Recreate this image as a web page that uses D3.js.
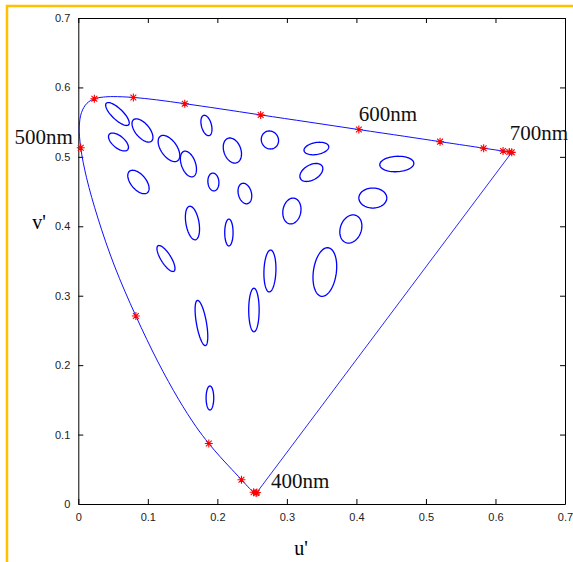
<!DOCTYPE html>
<html>
<head>
<meta charset="utf-8">
<script src="https://cdn.jsdelivr.net/npm/d3@7"></script>
<style>
  body { margin: 0; background: #fff; }
  svg { display: block; }
</style>
</head>
<body>
<div id="chart"></div>
<script>
// spectral locus, CIE 1976 u'v'
const wavelengths = [380, 400, 420, 430, 440, 450, 455, 460, 465, 470, 475, 480, 485, 490, 495,
    500, 505, 510, 515, 520, 525, 530, 540, 550, 560, 570, 580, 590, 600, 610, 620, 630, 640,
    650, 660, 680, 700];
const locusU = [0.2568, 0.2557, 0.2522, 0.2461, 0.2347, 0.2161, 0.2033, 0.1877, 0.1690, 0.1441,
    0.1147, 0.0828, 0.0521, 0.0282, 0.0119, 0.0035, 0.0014, 0.0046, 0.0123, 0.0231, 0.0360,
    0.0501, 0.0792, 0.1127, 0.1531, 0.2026, 0.2623, 0.3315, 0.4035, 0.4692, 0.5203, 0.5565,
    0.5830, 0.6005, 0.6109, 0.6199, 0.6234];
const locusV = [0.0166, 0.0159, 0.0169, 0.0226, 0.0350, 0.0549, 0.0688, 0.0871, 0.1119, 0.1510,
    0.2044, 0.2708, 0.3427, 0.4117, 0.4698, 0.5131, 0.5432, 0.5638, 0.5770, 0.5837, 0.5861,
    0.5868, 0.5856, 0.5821, 0.5766, 0.5694, 0.5604, 0.5501, 0.5393, 0.5296, 0.5219, 0.5165,
    0.5125, 0.5099, 0.5084, 0.5070, 0.5065];
const markerWavelengths = [380, 400, 420, 440, 460, 480, 500, 520, 540, 560, 580, 600, 620, 640, 660, 680, 700];
const labelWavelengths = [500, 600, 700, 400];

// MacAdam ellipses (enlarged): centre, semi axes, angle of major axis (deg)
const ellipseU = [0.0563, 0.0923, 0.0578, 0.1304, 0.1584, 0.1843, 0.1943, 0.0865, 0.2216, 0.2756,
    0.3424, 0.3352, 0.2396, 0.3072, 0.4581, 0.4236, 0.3920, 0.3546, 0.1642, 0.2166, 0.1261,
    0.2756, 0.2526, 0.1771, 0.1893];
const ellipseV = [0.5617, 0.5380, 0.5214, 0.5120, 0.4897, 0.5452, 0.4638, 0.4638, 0.5091, 0.5243,
    0.5120, 0.4775, 0.4472, 0.4220, 0.4897, 0.4407, 0.3961, 0.3341, 0.4047, 0.3910, 0.3536,
    0.3356, 0.2794, 0.2607, 0.1527];
const ellipseA = [0.0223, 0.0201, 0.0173, 0.0216, 0.0194, 0.0151, 0.0129, 0.0201, 0.0187, 0.0132,
    0.0180, 0.0180, 0.0151, 0.0187, 0.0245, 0.0201, 0.0209, 0.0353, 0.0245, 0.0194, 0.0216,
    0.0302, 0.0314, 0.0331, 0.0173];
const ellipseB = [0.0079, 0.0101, 0.0086, 0.0115, 0.0101, 0.0072, 0.0079, 0.0108, 0.0122, 0.0122,
    0.0086, 0.0108, 0.0094, 0.0129, 0.0111, 0.0144, 0.0151, 0.0165, 0.0094, 0.0060, 0.0072,
    0.0086, 0.0075, 0.0072, 0.0055];
const ellipseAngle = [-44, -50, -40, -55, -70, -75, -85, -50, -70, -60, 10, 30, -75, 80, 3, 0, 70,
    82, -80, 90, -58, 88, 90, -80, 90];

const ticks = [0, 0.1, 0.2, 0.3, 0.4, 0.5, 0.6, 0.7];

const width = 573, height = 562;
const svg = d3.select("#chart").append("svg")
    .attr("width", width)
    .attr("height", height);

// orange frame
svg.append("path")
    .attr("d", "M7,562 L7,6 L573,6")
    .attr("fill", "none")
    .attr("stroke", "#ffc000")
    .attr("stroke-width", 2.5);

const x = d3.scaleLinear().domain([0, 0.7]).range([78.3, 565]);
const y = d3.scaleLinear().domain([0, 0.7]).range([504, 18]);

const fmt = d => String(+d.toFixed(1));

function styleAxis(g) {
    g.selectAll("path, line").attr("stroke", "#000");
    g.selectAll("text")
        .attr("font-family", "'Liberation Sans', Arial, sans-serif")
        .attr("font-size", 11)
        .attr("fill", "#222");
}

svg.append("g")
    .attr("transform", "translate(0," + y(0) + ")")
    .call(d3.axisBottom(x).tickValues(ticks).tickFormat(fmt).tickSize(-5).tickSizeOuter(0).tickPadding(9))
    .call(styleAxis);
svg.append("g")
    .attr("transform", "translate(0," + y(0.7) + ")")
    .call(d3.axisTop(x).tickValues(ticks).tickFormat("").tickSize(-5).tickSizeOuter(0))
    .call(styleAxis);
svg.append("g")
    .attr("transform", "translate(" + x(0) + ",0)")
    .call(d3.axisLeft(y).tickValues(ticks).tickFormat(fmt).tickSize(-5).tickSizeOuter(0).tickPadding(8))
    .call(styleAxis);
svg.append("g")
    .attr("transform", "translate(" + x(0.7) + ",0)")
    .call(d3.axisRight(y).tickValues(ticks).tickFormat("").tickSize(-5).tickSizeOuter(0))
    .call(styleAxis);

// axis titles
svg.append("text")
    .attr("x", 301).attr("y", 555)
    .attr("text-anchor", "middle")
    .attr("font-family", "'Liberation Serif', 'Times New Roman', serif")
    .attr("font-size", 20)
    .text("u'");
svg.append("text")
    .attr("x", 39).attr("y", 229)
    .attr("text-anchor", "middle")
    .attr("font-family", "'Liberation Serif', 'Times New Roman', serif")
    .attr("font-size", 20)
    .text("v'");

// spectral locus, closed by the purple line
const locus = wavelengths.map((w, i) => ({w: w, u: locusU[i], v: locusV[i]}));
const line = d3.line()
    .x(d => x(d.u))
    .y(d => y(d.v))
    .curve(d3.curveCatmullRom);
svg.append("path")
    .attr("d", line(locus))
    .attr("fill", "none")
    .attr("stroke", "#1010ff")
    .attr("stroke-width", 1);
svg.append("path")
    .attr("d", d3.line().x(d => x(d.u)).y(d => y(d.v))([locus[locus.length - 1], locus[0]]))
    .attr("fill", "none")
    .attr("stroke", "#1010ff")
    .attr("stroke-width", 0.9);

// ellipses
const ellipses = ellipseU.map((u, i) => ({
    u: u, v: ellipseV[i], a: ellipseA[i], b: ellipseB[i], t: ellipseAngle[i] * Math.PI / 180
}));
const ellipseLine = d3.line().x(p => x(p[0])).y(p => y(p[1])).curve(d3.curveLinearClosed);
svg.append("g").selectAll("path")
    .data(ellipses)
    .enter()
    .append("path")
    .attr("d", function (e) {
        const pts = d3.range(0, 72).map(function (k) {
            const s = k / 72 * 2 * Math.PI;
            const cu = e.a * Math.cos(s), cv = e.b * Math.sin(s);
            return [e.u + cu * Math.cos(e.t) - cv * Math.sin(e.t),
                    e.v + cu * Math.sin(e.t) + cv * Math.cos(e.t)];
        });
        return ellipseLine(pts);
    })
    .attr("fill", "none")
    .attr("stroke", "#0000ff")
    .attr("stroke-width", 1.3);

// red asterisk markers
const star = "M-4,0L4,0M0,-4L0,4M-2.9,-2.9L2.9,2.9M-2.9,2.9L2.9,-2.9";
svg.append("g").selectAll("path")
    .data(locus.filter(d => markerWavelengths.includes(d.w)))
    .enter()
    .append("path")
    .attr("transform", d => "translate(" + x(d.u) + "," + y(d.v) + ")")
    .attr("d", star)
    .attr("fill", "none")
    .attr("stroke", "#ff0000")
    .attr("stroke-width", 1.1);

// wavelength labels
const labelOffsets = {500: [-8, -4, "end"], 600: [0, -9, "start"], 700: [-2, -12, "start"], 400: [15, -5, "start"]};
svg.append("g").selectAll("text")
    .data(locus.filter(d => labelWavelengths.includes(d.w)))
    .enter()
    .append("text")
    .attr("x", d => x(d.u) + labelOffsets[d.w][0])
    .attr("y", d => y(d.v) + labelOffsets[d.w][1])
    .attr("text-anchor", d => labelOffsets[d.w][2])
    .attr("font-family", "'Liberation Serif', 'Times New Roman', serif")
    .attr("font-size", 21)
    .attr("fill", "#111")
    .text(d => d.w + "nm");
</script>
</body>
</html>
